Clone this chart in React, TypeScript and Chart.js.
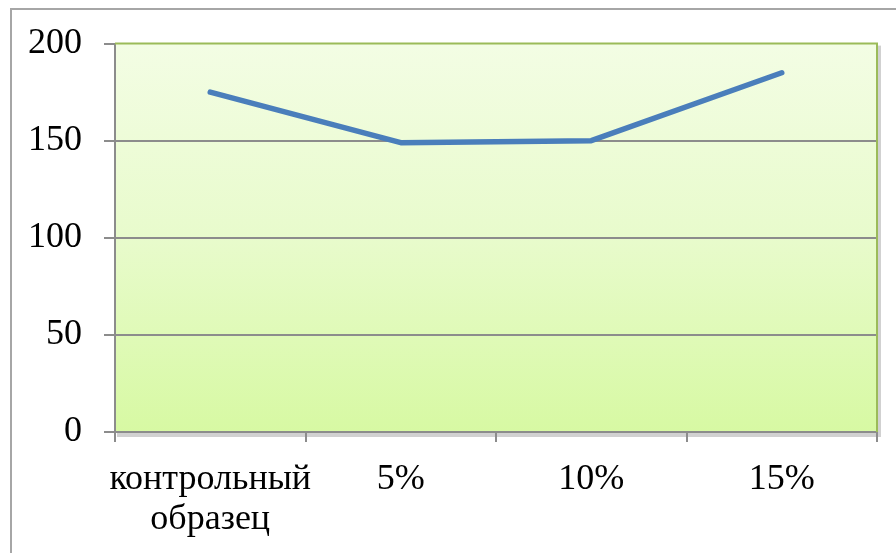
import React, { useEffect, useRef } from "react";
import { Chart, registerables } from "chart.js";

Chart.register(...registerables);

const categories: (string | string[])[] = [["контрольный", "образец"], "5%", "10%", "15%"];
const values: number[] = [175, 149, 150, 185];
const yTicks: number[] = [0, 50, 100, 150, 200];

const FONT = "'Liberation Serif', 'Times New Roman', serif";

const plotDecor = {
  id: "plotDecor",
  beforeDraw(chart: any) {
    const { ctx, chartArea: a } = chart;
    ctx.save();
    ctx.fillStyle = "rgba(0,0,0,0.18)";
    ctx.fillRect(a.left + 2, a.top + 2, a.right - a.left + 2, a.bottom - a.top + 3);
    const g = ctx.createLinearGradient(0, a.top, 0, a.bottom);
    g.addColorStop(0, "#f3fde4");
    g.addColorStop(0.5, "#e8fbcc");
    g.addColorStop(1, "#d7f9a3");
    ctx.fillStyle = g;
    ctx.fillRect(a.left, a.top, a.right - a.left, a.bottom - a.top);
    ctx.restore();
  },
  beforeDatasetsDraw(chart: any) {
    const { ctx, chartArea: a } = chart;
    ctx.save();
    ctx.strokeStyle = "#9bbb59";
    ctx.lineWidth = 2;
    ctx.beginPath();
    ctx.moveTo(a.left, a.top);
    ctx.lineTo(a.right, a.top);
    ctx.lineTo(a.right, a.bottom);
    ctx.stroke();
    ctx.restore();
  },
};

export default function App() {
  const ref = useRef<HTMLCanvasElement>(null);
  useEffect(() => {
    if (!ref.current) return;
    const chart = new Chart(ref.current, {
      type: "line",
      data: {
        labels: categories,
        datasets: [
          {
            data: values,
            borderColor: "#4a7ebb",
            borderWidth: 5.5,
            borderCapStyle: "round",
            borderJoinStyle: "round",
            pointRadius: 0,
            tension: 0,
            fill: false,
          },
        ],
      },
      options: {
        animation: false,
        responsive: false,
        maintainAspectRatio: false,
        layout: { padding: { top: 42, right: 19, left: 0, bottom: 0 } },
        plugins: { legend: { display: false }, tooltip: { enabled: false } },
        scales: {
          x: {
            offset: true,
            grid: {
              offset: true,
              drawOnChartArea: false,
              drawTicks: true,
              tickLength: 10,
              tickColor: "#8c8c8c",
              lineWidth: 2,
            },
            border: { color: "#8c8c8c", width: 2 },
            ticks: {
              color: "#000",
              font: { family: FONT, size: 36, lineHeight: 1.1 },
              padding: 18,
              maxRotation: 0,
              autoSkip: false,
            },
            afterFit(scale: any) {
              scale.height = 121;
            },
          },
          y: {
            min: 0,
            max: 200,
            afterBuildTicks(scale: any) {
              scale.ticks = yTicks.map((v) => ({ value: v }));
            },
            grid: {
              color: (c: any) => (c.tick && c.tick.value === 200 ? "rgba(0,0,0,0)" : "#8c8c8c"),
              tickColor: "#8c8c8c",
              lineWidth: 2,
              tickLength: 11,
            },
            border: { color: "#8c8c8c", width: 2 },
            ticks: {
              color: "#000",
              font: { family: FONT, size: 36 },
              padding: 22,
            },
            afterFit(scale: any) {
              scale.width = 115;
            },
          },
        },
      },
      plugins: [plotDecor],
    });
    return () => chart.destroy();
  }, []);

  return (
    <div>
      <div
        style={{
          position: "fixed",
          left: 10,
          top: 8,
          width: 1000,
          height: 700,
          borderLeft: "2px solid #a6a6a6",
          borderTop: "2px solid #a6a6a6",
          boxSizing: "border-box",
        }}
      />
      <canvas
        ref={ref}
        width={896}
        height={553}
        style={{ position: "fixed", left: 0, top: 0, width: 896, height: 553 }}
      />
    </div>
  );
}
